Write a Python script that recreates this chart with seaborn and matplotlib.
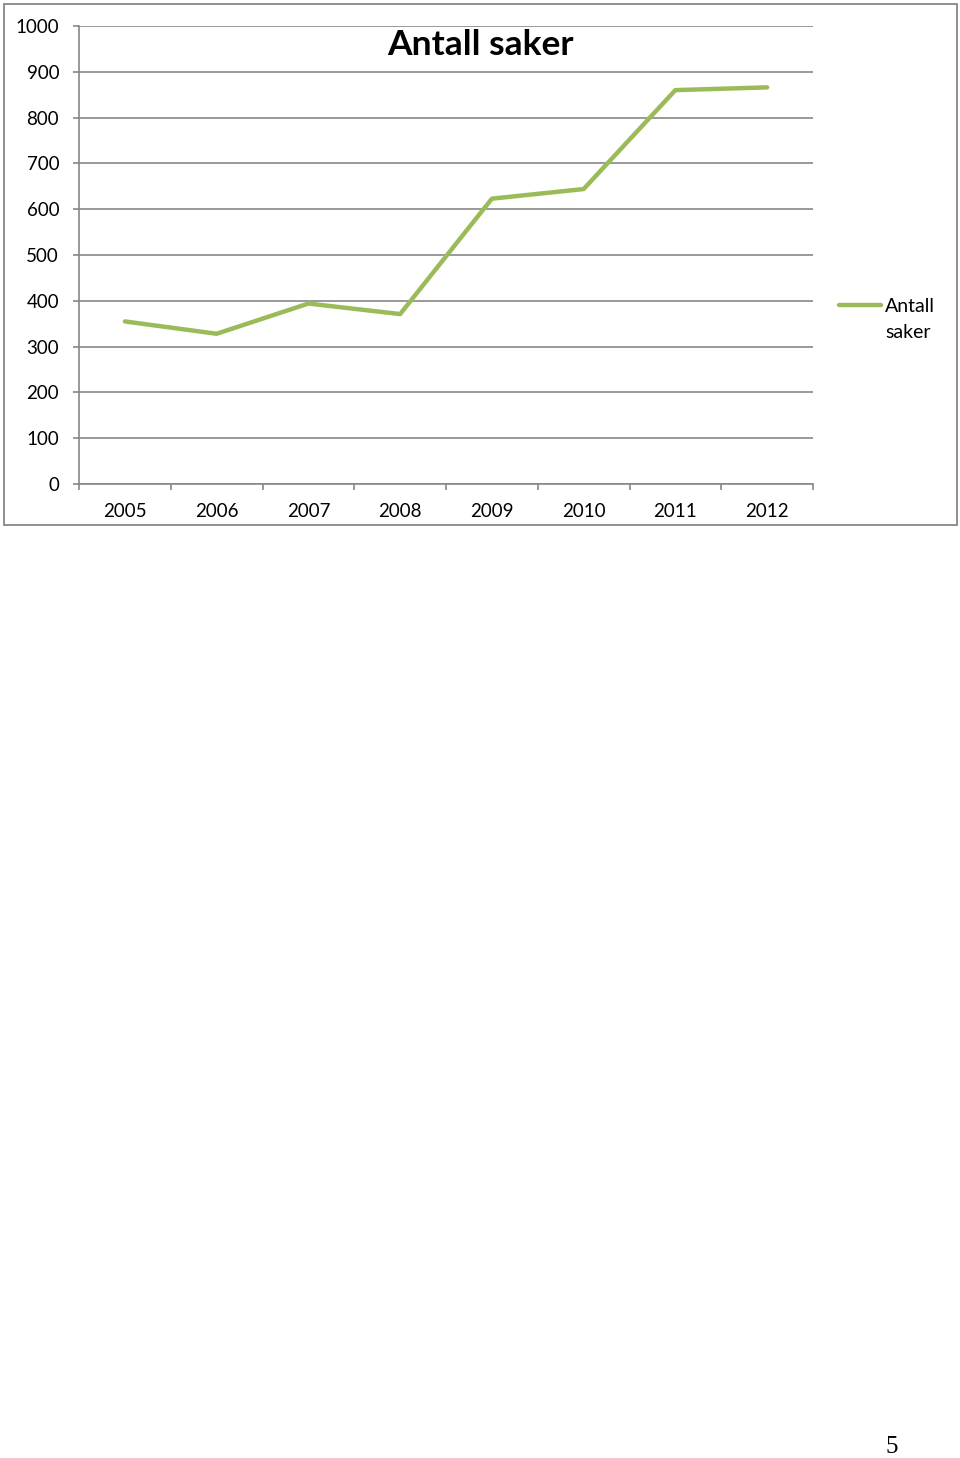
import matplotlib
matplotlib.use("Agg")
import matplotlib.pyplot as plt
from matplotlib.patches import Rectangle
import seaborn as sns
import pandas as pd
import numpy as np

years = ["2005", "2006", "2007", "2008", "2009", "2010", "2011", "2012"]
antall_saker = [355, 328, 394, 371, 623, 644, 860, 866]
y_ticks = [0, 100, 200, 300, 400, 500, 600, 700, 800, 900, 1000]

sns.set_theme(style="white")
plt.rcParams["font.family"] = ["Lato", "DejaVu Sans"]
plt.rcParams["text.color"] = "black"

W, H = 960, 1458
GRAY = "#878787"
fig = plt.figure(figsize=(W / 100, H / 100), dpi=100)
fig.patch.set_facecolor("white")

# chart frame
fig.patches.append(Rectangle((4 / W, 1 - 525 / H), 953 / W, 521 / H,
                             transform=fig.transFigure, fill=False,
                             edgecolor=GRAY, linewidth=1.3))

ax = fig.add_axes([79 / W, 1 - 484 / H, (813 - 79) / W, (484 - 26) / H])
df = pd.DataFrame({"year": years, "antall": antall_saker})
sns.lineplot(data=df, x="year", y="antall", ax=ax, color="#9bbb59",
             linewidth=3.2, label="Antall", sort=False)

ax.set_xlim(-0.5, len(years) - 0.5)
ax.set_ylim(0, 1000)
ax.set_yticks(y_ticks)
ax.set_yticklabels([str(v) for v in y_ticks], fontsize=13.5)
ax.set_xticks(range(len(years)))
ax.set_xticklabels(years, fontsize=13.5)
ax.set_xticks(np.arange(-0.5, len(years)), minor=True)
ax.tick_params(axis="x", which="major", length=0, pad=14, colors="black")
ax.tick_params(axis="x", which="minor", length=4.3, width=1.2, color=GRAY,
               direction="out", bottom=True)
ax.tick_params(axis="y", length=4.3, width=1.2, color=GRAY, direction="out",
               left=True, pad=10, colors="black")
ax.yaxis.grid(True, color=GRAY, linewidth=1.2)
ax.set_axisbelow(True)
for s in ["top", "right"]:
    ax.spines[s].set_visible(False)
for s in ["left", "bottom"]:
    ax.spines[s].set_color(GRAY)
    ax.spines[s].set_linewidth(1.2)
ax.set_xlabel("")
ax.set_ylabel("")

# legend: handle beside first line, second line of label below
ax.legend(loc="center left", bbox_to_anchor=(839 / W, 1 - 306 / H),
          bbox_transform=fig.transFigure, frameon=False, fontsize=14,
          handlelength=2.15, handletextpad=0.2, borderaxespad=0, borderpad=0)
fig.text(885 / W, 1 - 333 / H, "saker", ha="left", va="center", fontsize=14)

fig.text(480 / W, 1 - 45 / H, "Antall saker", ha="center", va="center",
         fontsize=25.5, fontweight="bold")
fig.text(892 / W, 1 - 1447 / H, "5", ha="center", va="center",
         fontsize=18, family=["Liberation Serif"])

fig.savefig("out.png", dpi=100)
